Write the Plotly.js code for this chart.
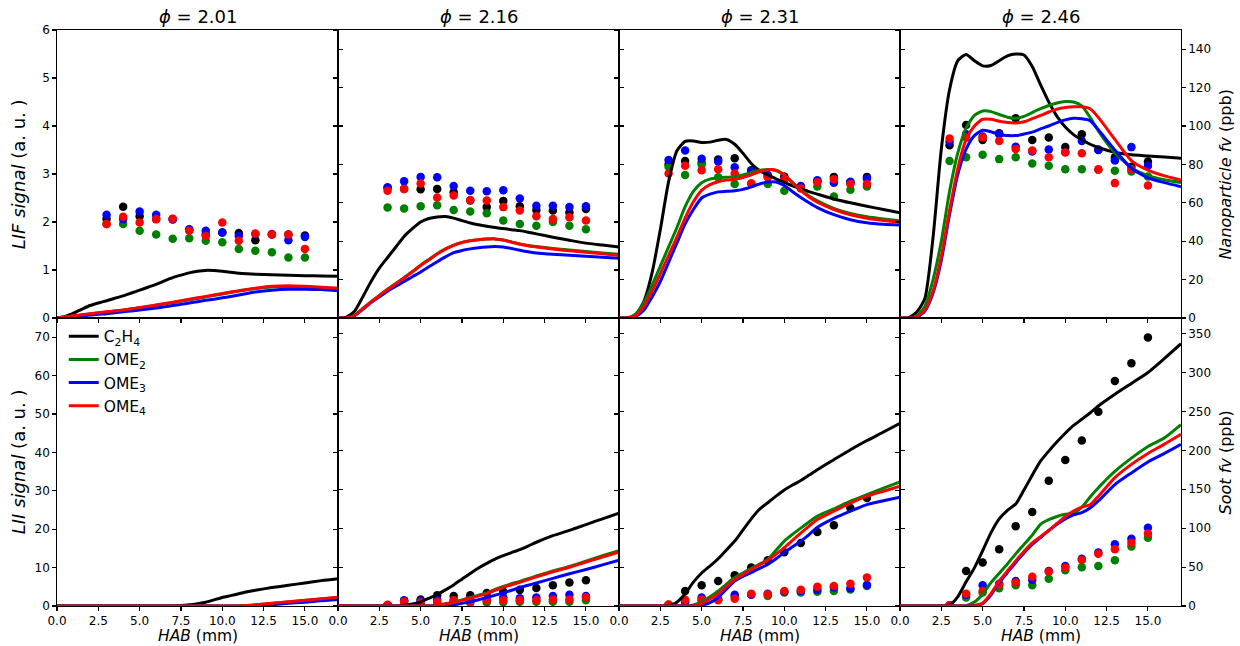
<!DOCTYPE html>
<html>
<head>
<meta charset="utf-8">
<script src="https://cdn.plot.ly/plotly-3.0.1.min.js"></script>
<style>html,body{margin:0;padding:0;background:#fff;}#chart{width:1240px;height:646px;}</style>
</head>
<body>
<div id="chart"></div>
<script>
// ---------- DATA ----------
const FUELS = ['C<sub>2</sub>H<sub>4</sub>', 'OME<sub>2</sub>', 'OME<sub>3</sub>', 'OME<sub>4</sub>'];
const PHI_LABELS = ['2.01', '2.16', '2.31', '2.46'];
const HAB_TICKS = [0, 2.5, 5, 7.5, 10, 12.5, 15];
const HAB_TICK_TEXT = ['0.0', '2.5', '5.0', '7.5', '10.0', '12.5', '15.0'];

// model HAB grid (mm)
const HAB_GRID = [0,0.5,1,1.5,2,2.5,3,3.5,4,4.5,5,5.5,6,6.5,7,7.5,8,8.5,9,9.5,10,10.5,11,11.5,12,13,14,15,16,17];
// experimental HAB (mm)
const HAB_EXP = [3,4,5,6,7,8,9,10,11,12,13,14,15];

// ---- Nanoparticle fv (ppb), model ----
const np201_C2H4 = [0,0.8,2.5,4.5,6.5,7.8,9,10.3,11.5,13,14.5,16,17.5,19.3,21,22.3,23.5,24.3,24.8,24.7,24.3,23.8,23.3,23,22.8,22.5,22.3,22,21.9,21.8];
const np201_OME2 = [0,0.5,1.1,1.6,2.1,2.6,3.1,3.6,4.1,4.7,5.3,5.9,6.6,7.3,8,8.7,9.5,10.2,11,11.8,12.5,13.3,14,14.7,15.3,16.2,16.4,16.2,15.8,15.3];
const np201_OME3 = [0,0.3,0.8,1.1,1.5,1.9,2.2,2.7,3.2,3.7,4.2,4.7,5.2,5.8,6.5,7.1,7.8,8.5,9.2,9.8,10.5,11.2,12,12.8,13.5,14.5,15,15,14.8,14.2];
const np201_OME4 = [0,0.5,1.2,1.7,2.2,2.7,3.2,3.7,4.2,4.8,5.5,6.1,6.8,7.5,8.2,9,9.8,10.5,11.2,12,12.8,13.5,14.2,14.9,15.5,16.5,16.8,16.5,16,15.5];

const np216_C2H4 = [0,0.5,3.5,11,19,26,31.5,37,42.5,46.5,50,51.8,52.6,52.8,52,50.7,49.5,48.6,47.8,47.1,46.6,46,45.5,44.7,43.8,42.1,40.5,39,38,37];
const np216_OME2 = [0,0,1.5,5,8.5,11.8,15,18,21,24.2,27.5,30.5,33.5,36,38,39.4,40.3,40.8,41.1,41.2,40.6,39.6,38.6,37.8,37.2,36.2,35.4,34.6,33.9,33.2];
const np216_OME3 = [0,0,1.2,4.5,8,11,14,16.5,19,21.5,24,26.7,29.3,31.8,34,35.2,36,36.6,37,37.2,37,36.2,35.3,34.5,33.9,33.2,32.7,32.2,31.6,31.1];
const np216_OME4 = [0,0,1.3,4.8,8.3,11.6,14.8,17.8,20.8,24,27.3,30.3,33.3,35.8,37.8,39.3,40.2,40.8,41.1,41.2,40.6,39.5,38.4,37.6,37,35.9,35,34.2,33.4,32.6];

const np231_C2H4 = [0,0,1.5,8.5,23.5,46,71,87,92,92.2,91.4,91.6,92.6,93,90.5,85.8,80.5,76.8,74.5,72.5,70.6,68.8,67.3,65.8,64.5,62,60,58.2,56.5,54.8];
const np231_OME2 = [0,0,2,8,17,27,37,47,58,66,70.5,72.3,73,73.3,73.6,74.5,75.8,76.8,77.4,76.8,74.5,70.5,66.8,63.5,61,57.1,54.5,52.7,51.6,50.7];
const np231_OME3 = [0,0,0.8,4,11,19,29,39,49,56.5,62.5,64.5,65.7,66,66.3,67,68.3,69.8,70.8,70.8,69,65.8,62.8,60,57.5,53.8,51.2,49.6,48.8,48.4];
const np231_OME4 = [0,0,1.2,6,14,23,32.5,42,52,60.5,66.5,69.5,71,71.8,72.3,73.2,74.6,76.2,77.2,77,74.5,70.5,66.5,63,60.3,56.5,53.8,52,50.8,49.8];

const np246_C2H4 = [0,0,3,10,42,88,119,134,137.3,134,131.3,131.5,134,136.5,137.5,137,131,121.5,112.5,105,99.5,95.5,92.8,90.5,88.8,86.3,85,84.4,83.8,83.2];
const np246_OME2 = [0,0,1,6,20,40,66,86,99,105.5,107.8,107.5,106,104.6,104,105,107,109,110.7,112,112.7,112.5,110.5,104.5,97.5,86,78.3,74.2,72,70.5];
const np246_OME3 = [0,0,0.4,3.5,13,30,54,75,88,95,97.8,97,95.6,95,95,95.8,96.8,98.5,100,101.8,103.2,104,103.8,102.8,98,87.5,78,73,70.5,68.4];
const np246_OME4 = [0,0,0.5,4,14,32,56,78,93,100,103.5,103.5,102.5,101.8,101.6,102.2,103.8,105.5,107.3,108.8,109.6,110,110,109,104.5,93,82,77,74,71.9];

// ---- Soot fv (ppb), model ----
const soot201_C2H4 = [0,0,0,0,0,0,0,0,0,0,0,0,0,0,0,0.5,1.5,3,4.9,7.9,10.9,13.3,15.8,18.3,20.2,23.7,26.6,29.6,32.6,35];
const soot201_OME2 = [0,0,0,0,0,0,0,0,0,0,0,0,0,0,0,0,0,0,0,0,0,0,0,0.4,1.3,3.2,5,7,9,11];
const soot201_OME3 = [0,0,0,0,0,0,0,0,0,0,0,0,0,0,0,0,0,0,0,0,0,0,0,0,0,1.5,3.5,4.9,6.9,8.4];
const soot201_OME4 = [0,0,0,0,0,0,0,0,0,0,0,0,0,0,0,0,0,0,0,0,0,0,0,0.5,1.5,3.5,5.4,7.4,9.4,11.3];

const soot216_C2H4 = [0,0,0,0,0,0,0,0,1,2.5,5.4,9.9,14.8,20.7,27.1,34.5,41.9,48.8,54.8,60.2,64.6,68.6,72.5,77,81.9,90.3,97.2,104.6,112,119.4];
const soot216_OME2 = [0,0,0,0,0,0,0,0,0,0,0,0,1,3,4.9,7.9,10.9,13.8,16.8,21.2,25.2,28.6,31.6,35,38.5,44.9,50.8,57.7,64.6,71];
const soot216_OME3 = [0,0,0,0,0,0,0,0,0,0,0,0,0,0,1.5,3.5,5.4,8,10.9,13.8,16.8,20.2,23.7,26.6,29.6,35.5,41.4,46.9,52.8,58.7];
const soot216_OME4 = [0,0,0,0,0,0,0,0,0,0,0,0,0.8,2.6,4.4,7.2,10,12.9,16,20,24,27.3,30.5,34,37.5,44,49.8,56.5,63,69];

const soot231_C2H4 = [0,0,0,0,0,0,0.5,4.9,15.8,30.6,42.4,51.3,60.7,72,83.4,97.7,112,124.3,132.7,141.1,149,155.4,161.3,168.2,175.1,188,200.8,212.6,223.5,234.8];
const soot231_OME2 = [0,0,0,0,0,0,0,0,0,1.5,5.4,11.8,19.2,28.1,36.5,42.4,48.3,53.8,59.7,71.5,83.4,92.2,100.1,108,115.4,124.8,134.7,143.1,151.4,159.3];
const soot231_OME3 = [0,0,0,0,0,0,0,0,0,0,1,4.4,10.9,21.7,32.1,38,42.9,48.3,53.3,60.7,68.6,76,83.4,91.8,101.1,112.5,121.8,130.2,135.2,139.6];
const soot231_OME4 = [0,0,0,0,0,0,0,0,0,0,3,8.9,15.8,25.2,34,40.5,46.9,52.8,58.7,66.6,75,84.4,93.7,102.6,111,121.8,132.2,141.1,147.5,153.9];

const soot246_C2H4 = [0,0,0,0,0,0,1,12,31,49,71,94,112,123,131,149,168,186,199,211,222,232,240,248,257,272,286,300,318,337];
const soot246_OME2 = [0,0,0,0,0,0,0,0,0.5,5,15,30,42,54,67,79,91,105,111,115,118,119,127,140,152,173,190,205,216,233];
const soot246_OME3 = [0,0,0,0,0,0,0,0,0,0.5,3,14,30,43,56,68,79,88,97,105,112,117,120,126,135,156,171,185,196,207.7];
const soot246_OME4 = [0,0,0,0,0,0,0,0,0,0.5,4,16,32,45,58,70,81,89,97,106,115,122,127,130,141,165,182,196,208,220.6];

// ---- LIF signal (a.u.), experiment ----
const lif201_C2H4 = [2.06,2.32,2.12,2.06,2.06,1.84,1.74,1.78,1.77,1.62,1.74,1.74,1.72];
const lif201_OME2 = [1.96,1.96,1.82,1.74,1.65,1.66,1.61,1.58,1.44,1.40,1.37,1.26,1.26];
const lif201_OME3 = [2.15,2.06,2.22,2.15,2.05,1.85,1.82,1.78,1.71,1.75,1.75,1.62,1.69];
const lif201_OME4 = [1.96,2.11,1.99,2.06,2.07,1.82,1.71,1.99,1.61,1.76,1.74,1.74,1.44];

const lif216_C2H4 = [2.72,2.69,2.68,2.69,2.62,2.45,2.31,2.44,2.33,2.25,2.24,2.20,2.27];
const lif216_OME2 = [2.30,2.28,2.33,2.35,2.25,2.22,2.18,2.03,1.96,1.92,2.00,1.92,1.85];
const lif216_OME3 = [2.72,2.85,2.94,2.93,2.75,2.65,2.64,2.66,2.49,2.34,2.34,2.31,2.33];
const lif216_OME4 = [2.65,2.69,2.80,2.51,2.55,2.46,2.45,2.31,2.24,2.12,2.06,2.10,2.03];

const lif231_C2H4 = [3.20,3.27,3.23,3.30,3.33,3.08,2.95,2.95,2.73,2.85,2.94,2.83,2.94];
const lif231_OME2 = [3.15,2.98,3.20,2.93,2.79,2.80,2.79,2.65,2.72,2.74,2.53,2.67,2.74];
const lif231_OME3 = [3.29,3.49,3.32,3.26,3.14,3.06,2.98,2.90,2.75,2.87,2.82,2.84,2.90];
const lif231_OME4 = [3.01,3.17,3.08,3.10,3.01,2.80,2.93,2.88,2.70,2.83,2.89,2.79,2.79];

const lif246_C2H4 = [3.60,4.02,3.71,3.85,4.16,3.71,3.76,3.56,3.83,3.50,3.35,3.15,3.26];
const lif246_OME2 = [3.27,3.35,3.40,3.31,3.35,3.22,3.17,3.10,3.10,3.09,3.07,3.05,2.95];
const lif246_OME3 = [3.67,3.83,3.78,3.83,3.57,3.47,3.51,3.46,3.69,3.51,3.28,3.56,3.17];
const lif246_OME4 = [3.74,3.76,3.76,3.69,3.52,3.49,3.35,3.45,3.43,3.10,2.81,3.10,2.76];

// ---- LII signal (a.u.), experiment ----
const lii216_C2H4 = [0.2,1.3,1.7,2.8,2.6,2.8,3.4,3.8,4.2,4.7,5.4,6.1,6.7];
const lii216_OME2 = [0.1,0.8,0.7,0.8,1.0,0.8,0.9,1.0,1.1,1.1,1.1,1.1,1.5];
const lii216_OME3 = [0.2,1.5,1.3,1.6,1.5,1.6,1.6,2.2,2.0,2.2,2.6,2.9,2.6];
const lii216_OME4 = [0.3,1.1,0.9,1.1,1.5,1.1,1.5,1.5,1.5,1.5,1.7,1.7,2.3];

const lii231_C2H4 = [0.3,3.9,5.4,6.5,8.0,10.0,11.9,14.0,16.4,19.3,21.0,25.5,28.1];
const lii231_OME2 = [0.1,1.0,1.5,1.6,2.5,3.0,2.6,3.5,3.5,3.7,3.9,4.3,5.2];
const lii231_OME3 = [0.2,1.2,2.2,1.8,2.9,2.9,3.2,3.7,3.9,4.2,4.8,4.6,5.5];
const lii231_OME4 = [0.4,1.6,1.7,1.5,1.9,3.2,3.0,3.9,4.2,5.0,5.2,5.8,7.4];

const lii246_C2H4 = [0.2,9.1,11.3,14.8,20.8,24.5,32.6,38.0,43.1,50.6,58.6,63.2,69.9];
const lii246_OME2 = [0.1,2.2,3.5,4.6,5.4,5.4,7.1,9.3,10.1,10.4,11.9,15.5,17.8];
const lii246_OME3 = [0.1,2.9,5.4,5.8,6.5,6.8,9.1,10.4,12.3,13.9,16.1,17.5,20.4];
const lii246_OME4 = [0.2,3.2,3.9,5.6,6.1,7.6,8.9,10.0,12.0,13.6,14.8,16.5,18.9];

// ---------- BUILD ----------
const COLORS = ['#000000', '#008000', '#0000ff', '#ff0000'];
const FONT = 'DejaVu Sans, Liberation Sans, sans-serif';

const panels = [
  {lines: [np201_C2H4, np201_OME2, np201_OME3, np201_OME4], dots: [lif201_C2H4, lif201_OME2, lif201_OME3, lif201_OME4]},
  {lines: [np216_C2H4, np216_OME2, np216_OME3, np216_OME4], dots: [lif216_C2H4, lif216_OME2, lif216_OME3, lif216_OME4]},
  {lines: [np231_C2H4, np231_OME2, np231_OME3, np231_OME4], dots: [lif231_C2H4, lif231_OME2, lif231_OME3, lif231_OME4]},
  {lines: [np246_C2H4, np246_OME2, np246_OME3, np246_OME4], dots: [lif246_C2H4, lif246_OME2, lif246_OME3, lif246_OME4]},
  {lines: [soot201_C2H4, soot201_OME2, soot201_OME3, soot201_OME4], dots: []},
  {lines: [soot216_C2H4, soot216_OME2, soot216_OME3, soot216_OME4], dots: [lii216_C2H4, lii216_OME2, lii216_OME3, lii216_OME4]},
  {lines: [soot231_C2H4, soot231_OME2, soot231_OME3, soot231_OME4], dots: [lii231_C2H4, lii231_OME2, lii231_OME3, lii231_OME4]},
  {lines: [soot246_C2H4, soot246_OME2, soot246_OME3, soot246_OME4], dots: [lii246_C2H4, lii246_OME2, lii246_OME3, lii246_OME4]}
];

const traces = [];
const layout = {
  width: 1240, height: 646,
  margin: {l: 57, r: 59, t: 30, b: 40, pad: 0},
  paper_bgcolor: '#ffffff', plot_bgcolor: 'rgba(0,0,0,0)',
  font: {family: FONT, size: 12, color: '#000'},
  showlegend: true,
  legend: {x: 0.006, y: 0.497, xanchor: 'left', yanchor: 'top', bgcolor: 'rgba(0,0,0,0)',
           font: {family: FONT, size: 15.5, color: '#000'}, tracegroupgap: 0, itemwidth: 30},
  annotations: []
};

panels.forEach((p, i) => {
  const row = Math.floor(i / 4), col = i % 4;
  const xa = 'x' + (i + 1), yl = 'y' + (2 * i + 1), yr = 'y' + (2 * i + 2);
  const xName = 'xaxis' + (i + 1), ylName = 'yaxis' + (2 * i + 1), yrName = 'yaxis' + (2 * i + 2);
  const common = {showgrid: false, zeroline: false, showline: true, linecolor: '#000', linewidth: 1.3,
                  ticks: 'outside', ticklen: 3.5, tickwidth: 1.1, tickcolor: '#000',
                  tickfont: {family: FONT, size: 12, color: '#000'}, fixedrange: true};
  layout[xName] = Object.assign({}, common, {
    domain: [col * 0.25, (col + 1) * 0.25], anchor: yl, range: [0, 17],
    tickmode: 'array', tickvals: HAB_TICKS, ticktext: HAB_TICK_TEXT,
    showticklabels: row === 1, mirror: true
  });
  const dom = row === 0 ? [0.5, 1] : [0, 0.5];
  layout[ylName] = Object.assign({}, common, {
    domain: dom, anchor: xa, side: 'left',
    range: row === 0 ? [0, 6] : [0, 75], tickmode: 'linear', tick0: 0, dtick: row === 0 ? 1 : 10,
    showticklabels: col === 0
  });
  layout[yrName] = Object.assign({}, common, {
    overlaying: yl, anchor: xa, side: 'right',
    range: row === 0 ? [0, 150] : [0, 370], tickmode: 'linear', tick0: 0, dtick: row === 0 ? 20 : 50,
    showticklabels: col === 3
  });

  // base subplot always holds at least one (possibly empty) trace so its axes exist
  traces.push({type: 'scatter', mode: 'markers', x: [], y: [], xaxis: xa, yaxis: yl, showlegend: false, hoverinfo: 'skip'});
  p.dots.forEach((d, k) => {
    traces.push({type: 'scatter', mode: 'markers', x: HAB_EXP, y: d, xaxis: xa, yaxis: yl,
      marker: {color: COLORS[k], size: 8.5, line: {width: 0}}, showlegend: false, hoverinfo: 'skip'});
  });
  p.lines.forEach((l, k) => {
    traces.push({type: 'scatter', mode: 'lines', x: HAB_GRID, y: l, xaxis: xa, yaxis: yr,
      line: {color: COLORS[k], width: 3, shape: 'spline', smoothing: 0.6},
      name: FUELS[k], showlegend: i === 4, hoverinfo: 'skip'});
  });
});

// column titles and x titles
PHI_LABELS.forEach((t, c) => {
  layout.annotations.push({xref: 'paper', yref: 'paper', x: (c + 0.5) * 0.25, y: 1, yanchor: 'bottom', yshift: 1,
    xanchor: 'center', showarrow: false, text: '<i>ϕ</i> = ' + t, font: {family: FONT, size: 18, color: '#000'}});
  layout.annotations.push({xref: 'paper', yref: 'paper', x: (c + 0.5) * 0.25, y: -0.0686, yanchor: 'bottom',
    xanchor: 'center', showarrow: false, borderpad: 0, text: '<i>HAB</i> (mm)', font: {family: FONT, size: 15.5, color: '#000'}});
});
// axis titles
const axTitles = [
  {x: -0.0345, y: 0.75, text: '<i>LIF signal</i> (a. u. )', size: 18},
  {x: -0.0345, y: 0.25, text: '<i>LII signal</i> (a. u. )', size: 18},
  {x: 1.0395, y: 0.75, text: '<i>Nanoparticle fv</i> (ppb)', size: 16},
  {x: 1.0395, y: 0.25, text: '<i>Soot fv</i> (ppb)', size: 16}
];
axTitles.forEach(a => layout.annotations.push({xref: 'paper', yref: 'paper', x: a.x, y: a.y, xanchor: 'center',
  yanchor: 'middle', textangle: -90, showarrow: false, text: a.text, font: {family: FONT, size: a.size, color: '#000'}}));

Plotly.newPlot('chart', traces, layout, {displayModeBar: false, staticPlot: true});
</script>
</body>
</html>
